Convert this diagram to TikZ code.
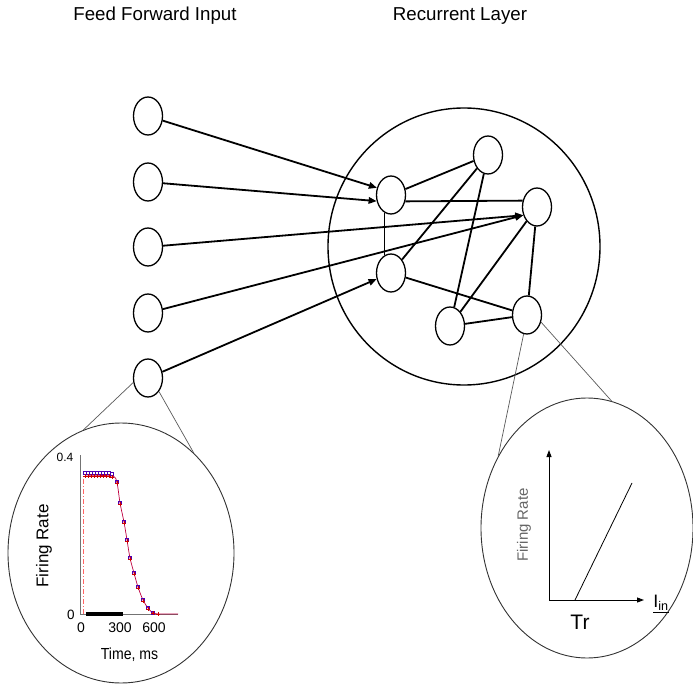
\documentclass[tikz,border=0pt]{standalone}
\usepackage{graphicx}
\usepackage{fontspec}
\setmainfont{Liberation Sans}
\usetikzlibrary{shapes.geometric,arrows.meta,plotmarks}
\begin{document}
\begin{tikzpicture}[x=1pt,y=-1pt,
  neuron/.style={ellipse,draw,line width=1.3pt,minimum width=29pt,minimum height=38pt,inner sep=0pt},
  syn/.style={line width=1.8pt},
  feed/.style={line width=1.8pt,-{Triangle[length=8pt,width=6.5pt]}},
  lens/.style={ellipse,draw,line width=0.9pt,draw=black!80,inner sep=0pt},
  lensline/.style={line width=0.7pt,draw=black!65},
  title/.style={font=\fontsize{18.7}{20}\selectfont,anchor=base},
  axis/.style={line width=0.9pt,draw=black!55},
  ax/.style={line width=0.9pt,-{Triangle[length=7pt,width=5pt]}}
]
\useasboundingbox (0,0) rectangle (693,687);

% titles
\node[title] (t1) at (155,21) {Feed Forward Input};
\node[title] (t2) at (460,21) {Recurrent Layer};

% recurrent layer boundary
\node[ellipse,draw,line width=1.4pt,minimum width=272pt,minimum height=277pt,inner sep=0pt] (rec) at (464,246.5) {};

% input neurons
\node[neuron] (i1) at (148,116) {};
\node[neuron] (i2) at (148,182) {};
\node[neuron] (i3) at (148,247) {};
\node[neuron] (i4) at (148,313) {};
\node[neuron] (i5) at (148,378) {};

% recurrent neurons
\node[neuron] (a) at (391,195) {};
\node[neuron] (b) at (391,273) {};
\node[neuron] (c) at (488,155) {};
\node[neuron] (d) at (537,207) {};
\node[neuron] (e) at (450,326) {};
\node[neuron] (f) at (527,315) {};

% feed-forward connections
\draw[feed] (i1) -- (a.153);
\draw[feed] (i2) -- (a.203);
\draw[feed] (i3) -- (d.211);
\draw[feed] (i4) -- (d.211);
\draw[feed] (i5) -- (b.203);

% recurrent connections
\draw[syn] (a) -- (c);
\draw[syn] (a.-24) -- (d.156);
\draw[syn] (a.250) -- (b.110);
\draw[syn] (b) -- (c);
\draw[syn] (c) -- (e);
\draw[syn] (d) -- (e);
\draw[syn] (d) -- (f);
\draw[syn] (b) -- (f);
\draw[syn] (e) -- (f);

% magnifier lenses
\node[lens,minimum width=226pt,minimum height=260pt] (bigL) at (121,553) {};
\node[lens,minimum width=212pt,minimum height=260pt] (bigR) at (587,528) {};
\draw[lensline] (i5.197) -- (bigL.107);
\draw[lensline] (i5.-51) -- (bigL.54);
\draw[lensline] (f.-27) -- (bigR.79);
\draw[lensline] (f.260) -- (bigR.141);

% ---- left plot: firing rate vs time ----
\draw[axis] (80.7,455) -- (80.7,614) -- (178,614);
\draw[red!60,line width=0.9pt,dash pattern=on 5pt off 2pt on 1pt off 2pt] (83,614) -- (83,478);
\fill[black] (86,611.5) rectangle (123,615.5);
\draw[red!75!blue,line width=0.7pt] plot[smooth] coordinates {(85,476) (112,476) (117,483) (120,503) (124,522) (127,540) (130,558) (134,573) (138,587) (143,600) (148,608) (153,613) (160,614) (178,614)};
\foreach \px/\py in {85/473,88/473,91/473,94/473,97/473,100/473,103/473,106/473,109/473,112/474,117/482,120/503,124/522,127/540,130/558,134/573,138/587,143/600,148/608,153/613}
  \node[draw=blue!70!red,line width=0.6pt,minimum size=2.6pt,inner sep=0pt] at (\px,\py) {};
\foreach \px/\py in {85/476,88/476,91/476,94/476,97/476,100/476,103/476,106/476,109/476,112/477,117/483,120/504,124/523,127/541,130/559,134/574,138/588,143/601,148/609,153/613,158/614}
  \draw[red!80!black,line width=0.7pt] (\px-1.6,\py) -- (\px+1.6,\py) (\px,\py-1.6) -- (\px,\py+1.6);
\node[font=\fontsize{12}{13}\selectfont] (y04) at (65,457) {0.4};
\node[font=\fontsize{13.5}{14}\selectfont] (y0) at (71,615) {0};
\node[font=\fontsize{14}{15}\selectfont] (x0) at (81,628) {0};
\node[font=\fontsize{14}{15}\selectfont] (x300) at (120,628) {300};
\node[font=\fontsize{14}{15}\selectfont] (x600) at (154,628) {600};
\node[font=\fontsize{16}{17}\selectfont] (tlab) at (129.5,655) {\scalebox{0.88}[1]{Time, ms}};
\node[font=\fontsize{17}{18}\selectfont,rotate=90] (frL) at (44,546) {Firing Rate};

% ---- right plot: transfer function ----
\coordinate (org) at (549,600);
\coordinate (ytip) at (549,450);
\coordinate (xtip) at (644,600);
\draw[ax] (org) -- (ytip);
\draw[ax] (org) -- (xtip);
\coordinate (tr) at (575,600);
\coordinate (lend) at (632,483);
\draw[line width=0.8pt] (tr) -- (lend);
\node[font=\fontsize{15}{16}\selectfont,rotate=90,text=black!60] (frR) at (524,525) {Firing Rate};
\node[font=\fontsize{21}{22}\selectfont] (trl) at (580,622) {Tr};
\node[font=\fontsize{18}{19}\selectfont] (iin) at (661,604) {\underline{I\textsubscript{in}}};
\end{tikzpicture}
\end{document}
